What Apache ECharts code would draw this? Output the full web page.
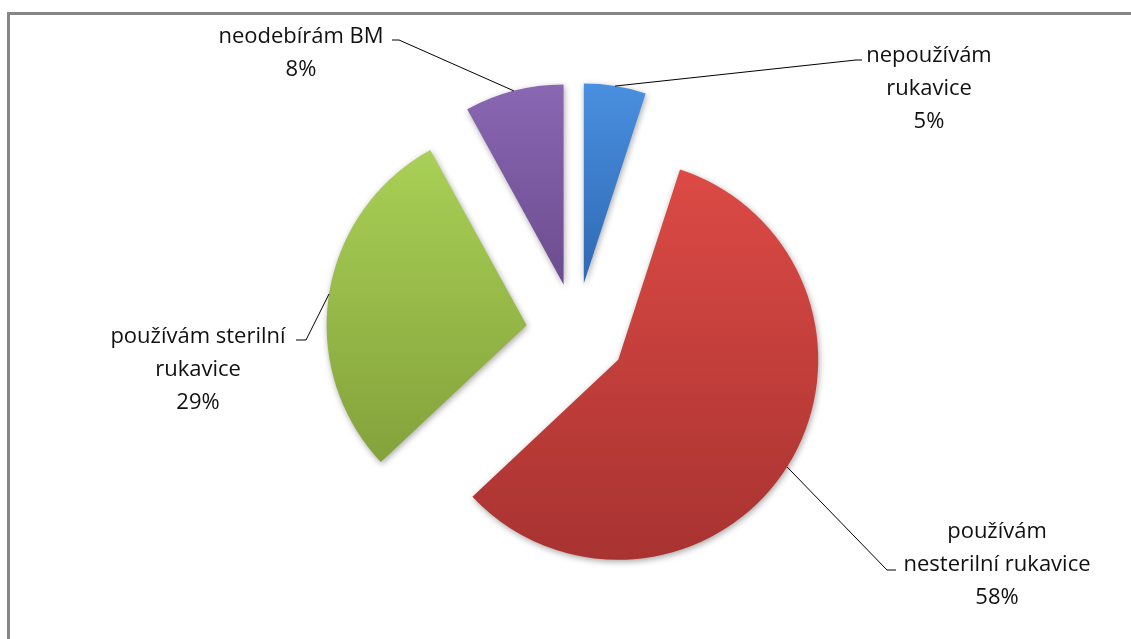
<!DOCTYPE html>
<html><head><meta charset="utf-8">
<script src="https://cdn.jsdelivr.net/npm/echarts@6/dist/echarts.min.js"></script>
<style>html,body{margin:0;padding:0;background:#fff}#c{width:1131px;height:639px}</style>
</head><body><div id="c"></div>
<script>
const categories = ['nepoužívám\nrukavice', 'používám\nnesterilní rukavice', 'používám sterilní\nrukavice', 'neodebírám BM'];
const values = [5, 58, 29, 8];
const colorsTop = ['#4a8fe0', '#dc4a45', '#a9d056', '#8a67b2'];
const colorsBottom = ['#2e69b2', '#a83331', '#84a23b', '#6c4c90'];

// label layout (text centre, leader elbow, leader end)
const labelCentre = [[929, 89], [997, 565], [198, 370], [301, 53]];
const leaderElbow = [[856, 60], [887, 570], [306, 340], [399, 40]];
const leaderEnd = [[862, 60], [896, 570], [296, 340], [392, 40]];

const PIE_CENTER = [576, 333];
const PIE_R = 200;
const EXPLODE = 50;

const chart = echarts.init(document.getElementById('c'), null, {renderer: 'canvas'});
const grad = i => new echarts.graphic.LinearGradient(0, 0, 0, 1, [
  {offset: 0, color: colorsTop[i]}, {offset: 1, color: colorsBottom[i]}
]);
chart.setOption({
  animation: false,
  graphic: [{
    type: 'rect', silent: true,
    shape: {x: 8.5, y: 13.5, width: 1300, height: 800},
    style: {fill: 'none', stroke: '#868686', lineWidth: 3}
  }],
  series: [{
    type: 'pie',
    center: PIE_CENTER,
    radius: [0, PIE_R],
    startAngle: 90,
    clockwise: true,
    selectedMode: 'multiple',
    selectedOffset: EXPLODE,
    avoidLabelOverlap: false,
    emphasis: {disabled: true},
    label: {show: false},
    labelLine: {show: false},
    data: categories.map((n, i) => ({
      name: n, value: values[i], selected: true,
      itemStyle: {
        color: grad(i),
        shadowBlur: 6, shadowColor: 'rgba(0,0,0,0.35)', shadowOffsetX: 1, shadowOffsetY: 2
      },
      select: {itemStyle: {color: grad(i)}}
    }))
  }, {
    type: 'pie',
    silent: true,
    center: PIE_CENTER,
    radius: [0, PIE_R + EXPLODE],
    startAngle: 90,
    clockwise: true,
    avoidLabelOverlap: false,
    emphasis: {disabled: true},
    itemStyle: {color: 'rgba(0,0,0,0)'},
    z: 3,
    data: categories.map((n, i) => ({name: n, value: values[i]})),
    label: {
      show: true, position: 'outside',
      formatter: '{b}\n{d}%',
      fontFamily: 'Open Sans', fontSize: 22, lineHeight: 33,
      color: '#111', align: 'center'
    },
    labelLine: {show: true, length: 10, length2: 10, lineStyle: {color: '#000', width: 1}},
    labelLayout: function (p) {
      const i = p.dataIndex;
      const start = p.labelLinePoints ? p.labelLinePoints[0] : leaderElbow[i];
      return {
        x: labelCentre[i][0], y: labelCentre[i][1],
        align: 'center', verticalAlign: 'middle',
        labelLinePoints: [start, leaderElbow[i], leaderEnd[i]]
      };
    }
  }]
});
</script></body></html>
